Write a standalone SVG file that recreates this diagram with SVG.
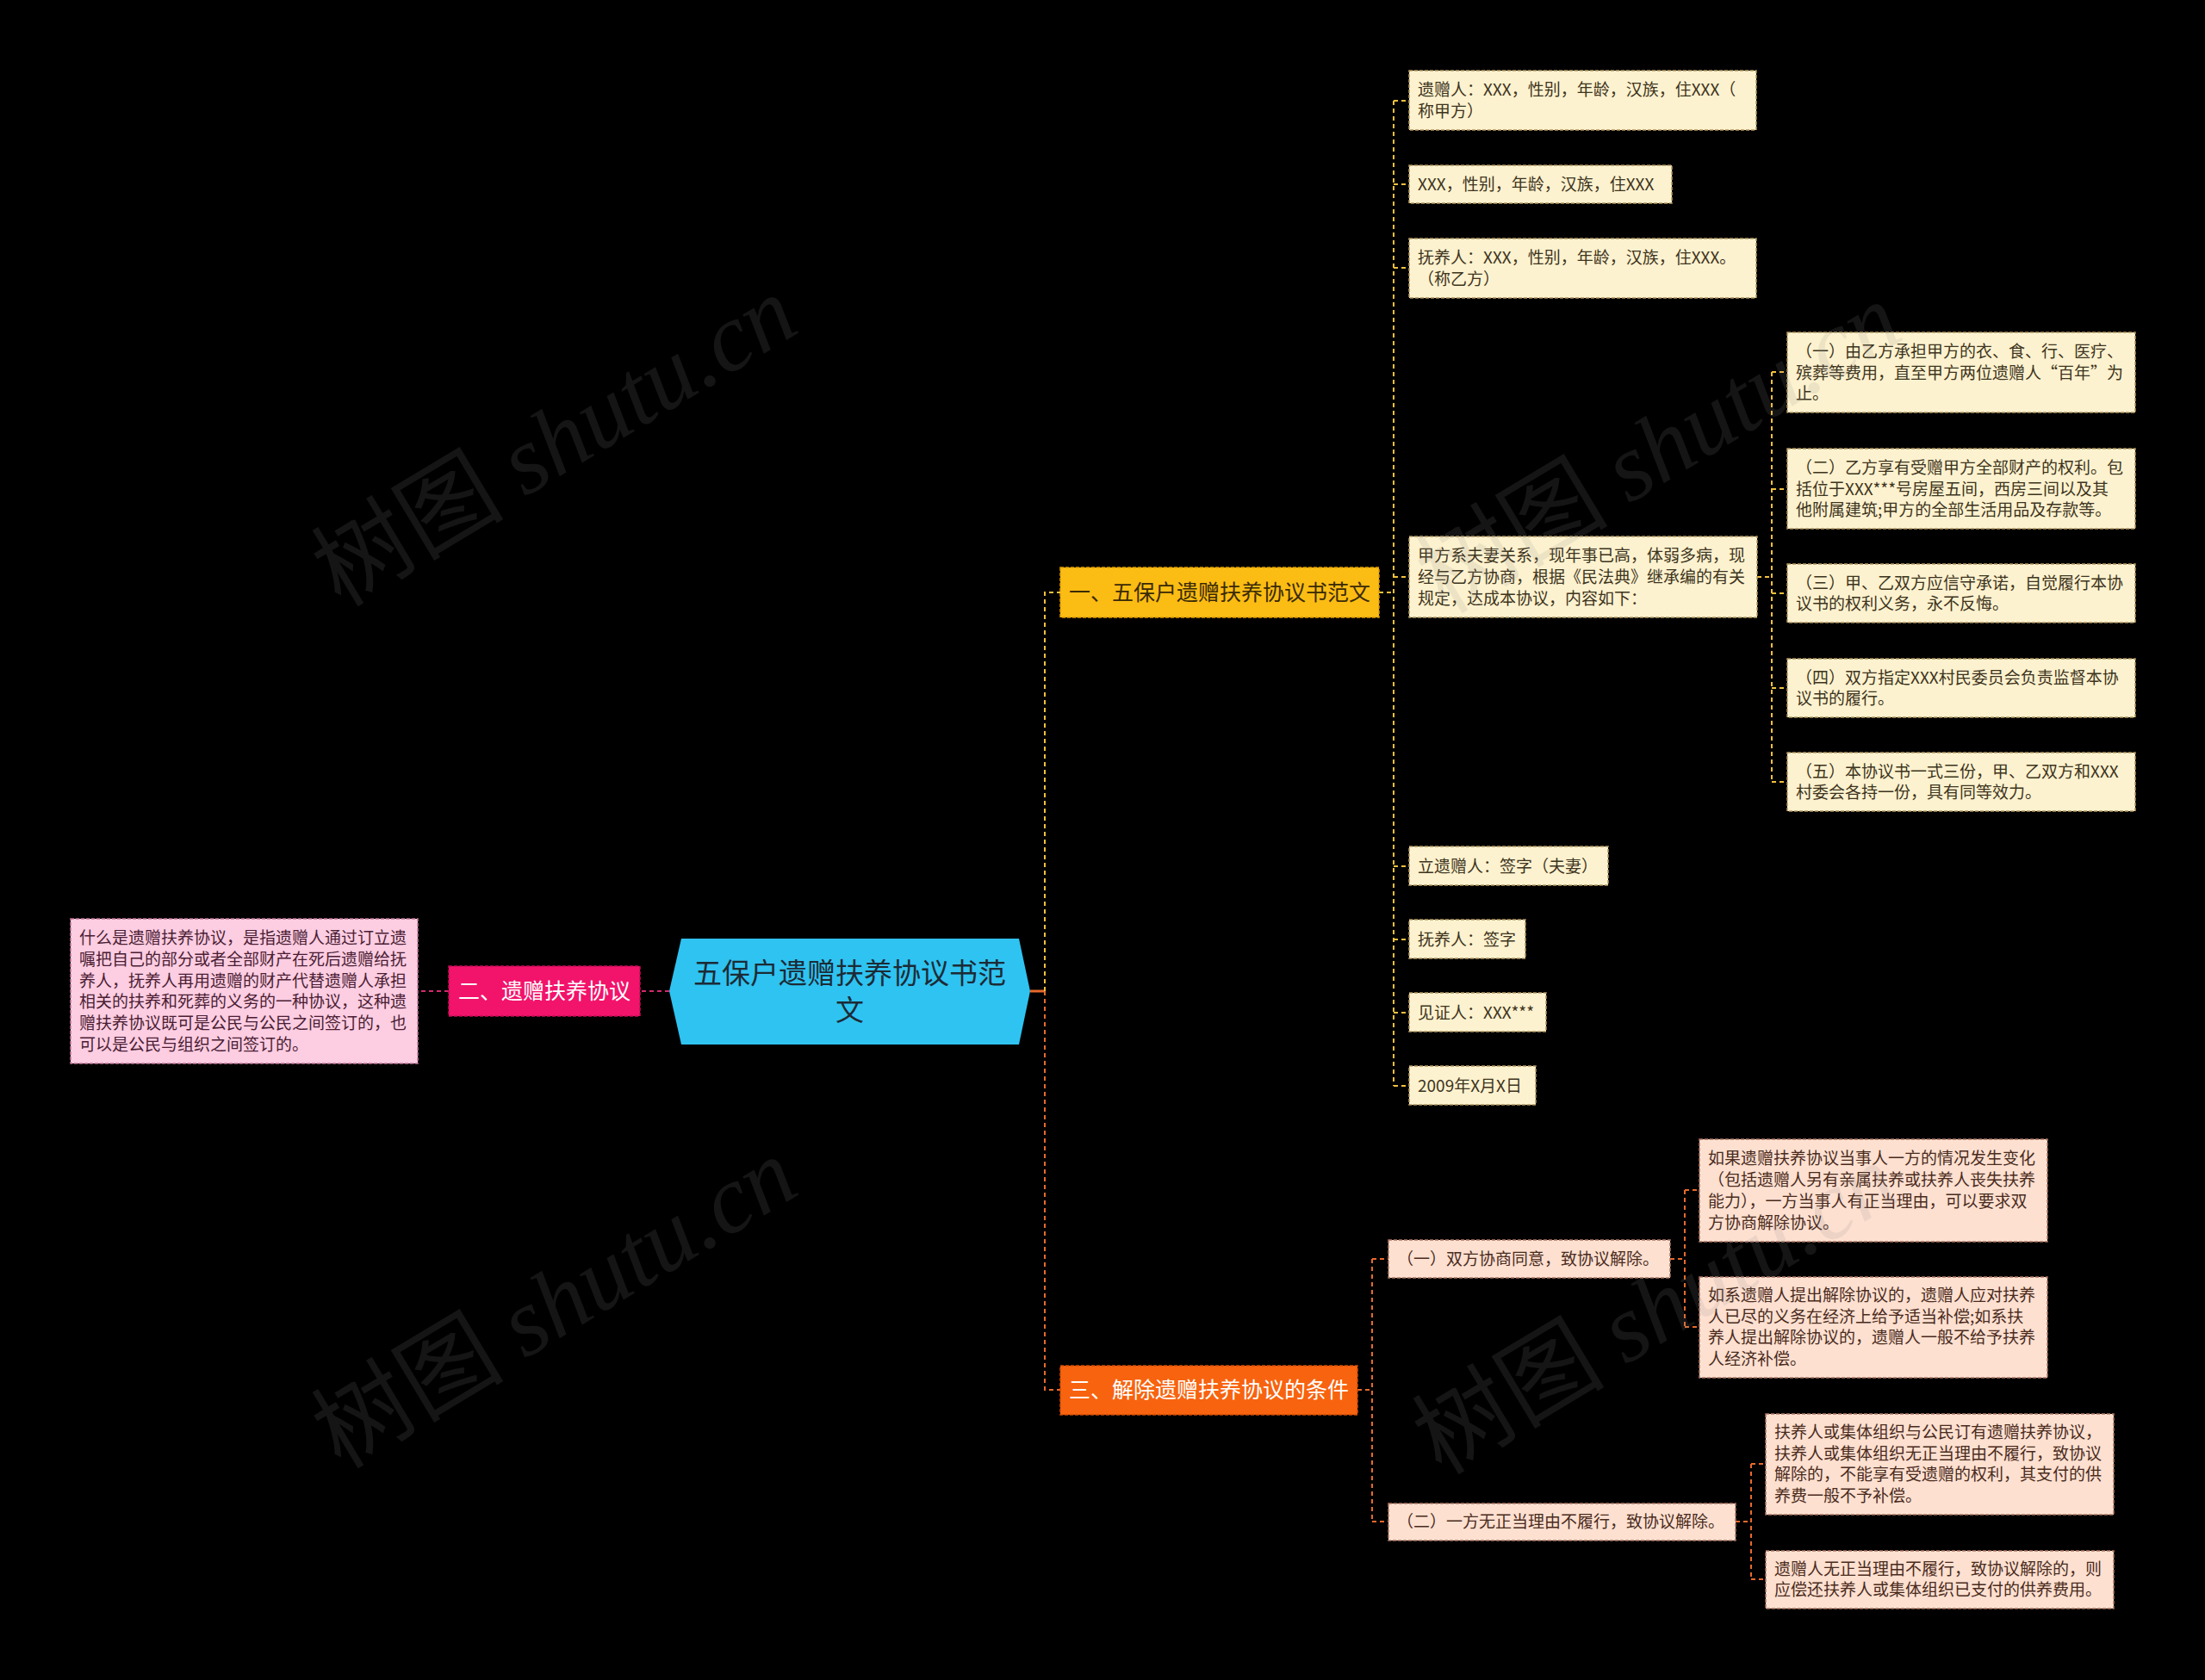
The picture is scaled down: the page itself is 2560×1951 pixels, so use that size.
<svg xmlns="http://www.w3.org/2000/svg" width="2560" height="1951" viewBox="0 0 2560 1951">
<style>
text{font-family:"Noto Sans CJK SC","Liberation Sans",sans-serif}
.t19{font-size:19px}
.t25{font-size:25px}
.ly{fill:#fdf2cf;stroke:#b39862;stroke-width:1.5;stroke-dasharray:4 2}
.lp{fill:#fde0d0;stroke:#ad7563;stroke-width:1.5;stroke-dasharray:4 2}
.lk{fill:#fdcde2;stroke:#c27796;stroke-width:1.5;stroke-dasharray:4 2}
.ty{fill:#3d3420}
.tp{fill:#4a2b1d}
.tk{fill:#4a1d33}
.c{fill:none;stroke-width:2;stroke-dasharray:5 4}
.cy{stroke:#f2c03c}
.co{stroke:#e8692c}
.cp{stroke:#d3296f}
.wm{font-size:112px;fill:#8a8a8a;fill-opacity:0.15}
</style>
<rect x="0" y="0" width="2560" height="1951" fill="#000000"/>

<g id="connectors">
<line x1="1196" y1="1151" x2="1213" y2="1151" stroke="#e8692c" stroke-width="3"/>
<path class="c cy" d="M1213,1151 V688 H1231"/>
<path class="c co" d="M1213,1151 V1614 H1231"/>
<path class="c cp" d="M777,1151 H743" stroke-dasharray="12 4" stroke-width="3"/>
<path class="c cp" d="M521,1151 H485"/>
<path class="c cy" d="M1601,688 H1618"/>
<path class="c cy" d="M1618,117 V1261"/>
<path class="c cy" d="M1618,117 H1636 M1618,214 H1636 M1618,311 H1636 M1618,670 H1636 M1618,1006 H1636 M1618,1091 H1636 M1618,1176 H1636 M1618,1261 H1636"/>
<path class="c cy" d="M2040,670 H2057 M2057,432 V908 M2057,432 H2075 M2057,568 H2075 M2057,689 H2075 M2057,799 H2075 M2057,908 H2075"/>
<path class="c co" d="M1576,1614 H1593 M1593,1462 V1767 M1593,1462 H1612 M1593,1767 H1612"/>
<path class="c co" d="M1939,1462 H1956 M1956,1382 V1541 M1956,1382 H1973 M1956,1541 H1973"/>
<path class="c co" d="M2015,1767 H2033 M2033,1700 V1834 M2033,1700 H2050 M2033,1834 H2050"/>
</g>

<g id="root">
<polygon points="791,1090 1183,1090 1196,1151 1183,1213 791,1213 777,1151" fill="#2fc3f1"/>
<text x="986.5" y="1142" font-size="33" fill="#1c2b36" text-anchor="middle">五保户遗赠扶养协议书范<tspan x="986.5" y="1185">文</tspan></text>
</g>

<g id="b1">
<rect x="1231" y="659" width="370" height="58" fill="#fbbc14" stroke="#e09c00" stroke-width="1.5" stroke-dasharray="4 2"/>
<text class="t25" x="1416" y="697" text-anchor="middle" fill="#3a2a05">一、五保户遗赠扶养协议书范文</text>
</g>
<g id="b2">
<rect x="521" y="1122" width="222" height="58" fill="#f2136b" stroke="#c40d55" stroke-width="1.5" stroke-dasharray="4 2"/>
<text class="t25" x="632" y="1160" text-anchor="middle" fill="#ffffff">二、遗赠扶养协议</text>
</g>
<g id="b3">
<rect x="1231" y="1586" width="345" height="57" fill="#f8630f" stroke="#d04e05" stroke-width="1.5" stroke-dasharray="4 2"/>
<text class="t25" x="1403.5" y="1623" text-anchor="middle" fill="#ffffff">三、解除遗赠扶养协议的条件</text>
</g>

<g id="pink-leaf">
<rect class="lk" x="82" y="1067" width="403" height="168"/>
<text class="t19 tk"><tspan x="92" y="1096">什么是遗赠扶养协议，是指遗赠人通过订立遗</tspan><tspan x="92" y="1121">嘱把自己的部分或者全部财产在死后遗赠给抚</tspan><tspan x="92" y="1146">养人，抚养人再用遗赠的财产代替遗赠人承担</tspan><tspan x="92" y="1170">相关的扶养和死葬的义务的一种协议，这种遗</tspan><tspan x="92" y="1195">赠扶养协议既可是公民与公民之间签订的，也</tspan><tspan x="92" y="1220">可以是公民与组织之间签订的。</tspan></text>
</g>

<g id="l1">
<rect class="ly" x="1636" y="82" width="403" height="69"/>
<text class="t19 ty"><tspan x="1646" y="111">遗赠人：XXX，性别，年龄，汉族，住XXX（</tspan><tspan x="1646" y="136">称甲方）</tspan></text>
</g>
<g id="l2">
<rect class="ly" x="1636" y="192" width="305" height="44"/>
<text class="t19 ty" x="1646" y="221">XXX，性别，年龄，汉族，住XXX</text>
</g>
<g id="l3">
<rect class="ly" x="1636" y="277" width="403" height="69"/>
<text class="t19 ty"><tspan x="1646" y="306">抚养人：XXX，性别，年龄，汉族，住XXX。</tspan><tspan x="1646" y="331">（称乙方）</tspan></text>
</g>
<g id="l4">
<rect class="ly" x="1636" y="623" width="404" height="94"/>
<text class="t19 ty"><tspan x="1646" y="652">甲方系夫妻关系，现年事已高，体弱多病，现</tspan><tspan x="1646" y="677">经与乙方协商，根据《民法典》继承编的有关</tspan><tspan x="1646" y="702">规定，达成本协议，内容如下：</tspan></text>
</g>
<g id="l5">
<rect class="ly" x="1636" y="983" width="231" height="45"/>
<text class="t19 ty" x="1646" y="1013">立遗赠人：签字（夫妻）</text>
</g>
<g id="l6">
<rect class="ly" x="1636" y="1068" width="135" height="45"/>
<text class="t19 ty" x="1646" y="1098">抚养人：签字</text>
</g>
<g id="l7">
<rect class="ly" x="1636" y="1153" width="159" height="45"/>
<text class="t19 ty" x="1646" y="1183">见证人：XXX***</text>
</g>
<g id="l8">
<rect class="ly" x="1636" y="1238" width="147" height="45"/>
<text class="t19 ty" x="1646" y="1268">2009年X月X日</text>
</g>

<g id="s1">
<rect class="ly" x="2075" y="386" width="404" height="93"/>
<text class="t19 ty"><tspan x="2085" y="415">（一）由乙方承担甲方的衣、食、行、医疗、</tspan><tspan x="2085" y="440">殡葬等费用，直至甲方两位遗赠人“百年”为</tspan><tspan x="2085" y="464">止。</tspan></text>
</g>
<g id="s2">
<rect class="ly" x="2075" y="521" width="404" height="93"/>
<text class="t19 ty"><tspan x="2085" y="550">（二）乙方享有受赠甲方全部财产的权利。包</tspan><tspan x="2085" y="575">括位于XXX***号房屋五间，西房三间以及其</tspan><tspan x="2085" y="599">他附属建筑;甲方的全部生活用品及存款等。</tspan></text>
</g>
<g id="s3">
<rect class="ly" x="2075" y="655" width="404" height="68"/>
<text class="t19 ty"><tspan x="2085" y="684">（三）甲、乙双方应信守承诺，自觉履行本协</tspan><tspan x="2085" y="708">议书的权利义务，永不反悔。</tspan></text>
</g>
<g id="s4">
<rect class="ly" x="2075" y="765" width="404" height="68"/>
<text class="t19 ty"><tspan x="2085" y="794">（四）双方指定XXX村民委员会负责监督本协</tspan><tspan x="2085" y="818">议书的履行。</tspan></text>
</g>
<g id="s5">
<rect class="ly" x="2075" y="874" width="404" height="68"/>
<text class="t19 ty"><tspan x="2085" y="903">（五）本协议书一式三份，甲、乙双方和XXX</tspan><tspan x="2085" y="927">村委会各持一份，具有同等效力。</tspan></text>
</g>

<g id="c1">
<rect class="lp" x="1612" y="1440" width="327" height="44"/>
<text class="t19 tp" x="1622" y="1469">（一）双方协商同意，致协议解除。</text>
</g>
<g id="c2">
<rect class="lp" x="1612" y="1746" width="403" height="43"/>
<text class="t19 tp" x="1622" y="1774">（二）一方无正当理由不履行，致协议解除。</text>
</g>
<g id="c1a">
<rect class="lp" x="1973" y="1323" width="404" height="119"/>
<text class="t19 tp"><tspan x="1983" y="1352">如果遗赠扶养协议当事人一方的情况发生变化</tspan><tspan x="1983" y="1377">（包括遗赠人另有亲属扶养或扶养人丧失扶养</tspan><tspan x="1983" y="1402">能力），一方当事人有正当理由，可以要求双</tspan><tspan x="1983" y="1427">方协商解除协议。</tspan></text>
</g>
<g id="c1b">
<rect class="lp" x="1973" y="1483" width="404" height="117"/>
<text class="t19 tp"><tspan x="1983" y="1511">如系遗赠人提出解除协议的，遗赠人应对扶养</tspan><tspan x="1983" y="1536">人已尽的义务在经济上给予适当补偿;如系扶</tspan><tspan x="1983" y="1560">养人提出解除协议的，遗赠人一般不给予扶养</tspan><tspan x="1983" y="1585">人经济补偿。</tspan></text>
</g>
<g id="c2a">
<rect class="lp" x="2050" y="1642" width="404" height="117"/>
<text class="t19 tp"><tspan x="2060" y="1670">扶养人或集体组织与公民订有遗赠扶养协议，</tspan><tspan x="2060" y="1695">扶养人或集体组织无正当理由不履行，致协议</tspan><tspan x="2060" y="1719">解除的，不能享有受遗赠的权利，其支付的供</tspan><tspan x="2060" y="1744">养费一般不予补偿。</tspan></text>
</g>
<g id="c2b">
<rect class="lp" x="2050" y="1801" width="404" height="67"/>
<text class="t19 tp"><tspan x="2060" y="1829">遗赠人无正当理由不履行，致协议解除的，则</tspan><tspan x="2060" y="1853">应偿还扶养人或集体组织已支付的供养费用。</tspan></text>
</g>

<g id="watermarks">
<text class="wm" x="645" y="550" text-anchor="middle" transform="rotate(-31 645 514)">树图 <tspan font-family="Liberation Serif" font-style="italic">shutu.cn</tspan></text>
<text class="wm" x="645" y="1551" text-anchor="middle" transform="rotate(-31 645 1515)">树图 <tspan font-family="Liberation Serif" font-style="italic">shutu.cn</tspan></text>
<text class="wm" x="1927" y="558" text-anchor="middle" transform="rotate(-31 1927 522)">树图 <tspan font-family="Liberation Serif" font-style="italic">shutu.cn</tspan></text>
<text class="wm" x="1923" y="1558" text-anchor="middle" transform="rotate(-31 1923 1522)">树图 <tspan font-family="Liberation Serif" font-style="italic">shutu.cn</tspan></text>
</g>
</svg>
